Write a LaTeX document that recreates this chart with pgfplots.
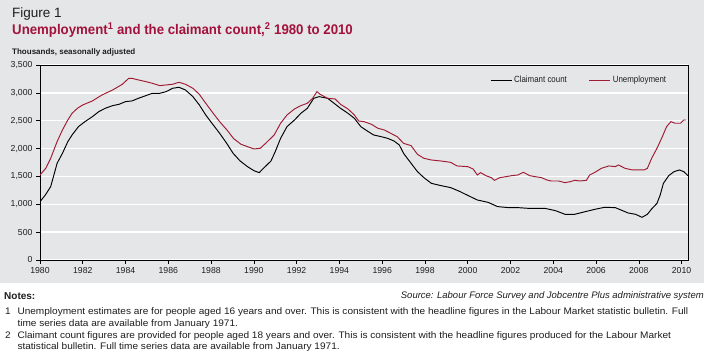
\documentclass[border=0pt]{standalone}
\usepackage{fontspec}
\setmainfont{Liberation Sans}
\newfontfamily\narrow[FakeStretch=0.88]{Liberation Sans}
\newfontfamily\notesfont[FakeStretch=1.06]{Liberation Sans}
\usepackage{pgfplots}
\pgfplotsset{compat=1.18}
\definecolor{bggray}{RGB}{229,230,231}
\definecolor{unemp}{RGB}{160,27,52}
\definecolor{titlered}{RGB}{163,18,60}
\definecolor{txt}{RGB}{30,30,30}
\begin{document}
\begin{tikzpicture}
\path[use as bounding box] (0pt,0pt) rectangle (710pt,358pt);
\fill[white] (0pt,0pt) rectangle (710pt,358pt);
\fill[bggray] (0pt,75pt) rectangle (704pt,358pt);
\node[anchor=base west, inner sep=0pt, text=txt] at (12pt,340.5pt) {\fontsize{13.5}{15}\selectfont Figure 1};
\node[anchor=base west, inner sep=0pt, text=titlered] at (12pt,323.7pt) {\fontsize{14}{16}\selectfont\bfseries\addfontfeature{FakeStretch=0.945}Unemployment\textsuperscript{1} and the claimant count,\textsuperscript{2} 1980 to 2010};
\node[anchor=base west, inner sep=0pt, text=txt] at (12pt,303pt) {\fontsize{8}{9}\selectfont\bfseries Thousands, seasonally adjusted};
\begin{axis}[
  at={(40pt,98pt)}, anchor=south west, scale only axis,
  width=648pt, height=195pt,
  xmin=1980, xmax=2010.3, ymin=0, ymax=3500,
  xtick={1980,1982,...,2010}, minor x tick num=9,
  ytick={0,500,...,3500},
  xtick pos=bottom, ytick pos=left,
  tick align=outside, major tick length=4pt, minor tick length=4pt,
  ymajorgrids, grid style={white, line width=1.3pt},
  axis background/.style={fill=bggray},
  axis line style={black, line width=0.8pt},
  tick style={black, line width=0.6pt},
  /pgf/number format/assume math mode=true,
  ticklabel style={font=\fontsize{8.7}{10}\selectfont, text=txt},
  xticklabel style={/pgf/number format/1000 sep={}},
  yticklabel style={/pgf/number format/1000 sep={,}},
  legend style={draw=none, fill=none, at={(0.832,0.923)}, anchor=center,
    font=\narrow\fontsize{9}{10}\selectfont, text=txt,
    /tikz/every even column/.append style={column sep=20pt}},
  legend columns=2,
  legend image code/.code={\draw[#1] (0pt,0pt) -- (21pt,0pt);},
]
\addplot[black, line width=0.95pt] coordinates {
(1980.0,1047) (1980.25,1167) (1980.5,1317) (1980.65,1526) (1980.8,1736)
(1981.05,1915) (1981.3,2124) (1981.5,2244) (1981.8,2394) (1982.1,2483)
(1982.45,2573) (1982.75,2663) (1983.05,2723) (1983.4,2771) (1983.7,2795)
(1984.0,2843) (1984.3,2855) (1984.6,2902) (1984.95,2950) (1985.25,2992)
(1985.6,2992) (1985.9,3022) (1986.2,3082) (1986.5,3100) (1986.8,3052)
(1987.15,2932) (1987.45,2783) (1987.75,2603) (1988.1,2424) (1988.4,2274)
(1988.72,2100) (1989.03,1915) (1989.35,1780) (1989.7,1676) (1990.0,1604)
(1990.25,1568) (1990.45,1646) (1990.8,1777) (1991.0,1945) (1991.25,2184)
(1991.55,2394) (1991.9,2513) (1992.2,2633) (1992.5,2723) (1992.8,2902)
(1993.05,2932) (1993.45,2902) (1993.75,2813) (1994.05,2723) (1994.4,2633)
(1994.7,2543) (1995.0,2394) (1995.3,2316) (1995.6,2244) (1995.95,2214)
(1996.25,2184) (1996.55,2136) (1996.8,2065) (1997.0,1915) (1997.35,1736)
(1997.65,1586) (1997.95,1478) (1998.3,1376) (1998.75,1335) (1999.2,1299)
(1999.6,1235) (2000.0,1160) (2000.45,1077) (2000.95,1035) (2001.4,958)
(2001.9,940) (2002.35,940) (2002.8,928) (2003.3,928) (2003.6,928)
(2004.1,886) (2004.55,820) (2005.0,820) (2005.5,868) (2005.95,910)
(2006.4,946) (2006.9,940) (2007.2,892) (2007.5,844) (2007.85,820)
(2008.15,766) (2008.4,820) (2008.6,916) (2008.85,1017) (2009.0,1167)
(2009.15,1376) (2009.4,1514) (2009.65,1586) (2009.9,1616) (2010.1,1586)
(2010.3,1514)
};
\addlegendentry{Claimant count}
\addplot[unemp, line width=0.95pt] coordinates {
(1980.0,1526) (1980.27,1646) (1980.5,1825) (1980.65,1975) (1980.8,2125)
(1981.05,2334) (1981.3,2513) (1981.5,2633) (1981.75,2723) (1982.0,2783)
(1982.45,2855) (1982.9,2962) (1983.4,3052) (1983.85,3154) (1984.15,3261)
(1984.3,3261) (1984.6,3232) (1984.95,3202) (1985.25,3172) (1985.6,3130)
(1985.9,3142) (1986.2,3154) (1986.5,3190) (1986.8,3154) (1987.15,3082)
(1987.45,2974) (1987.75,2813) (1988.1,2633) (1988.4,2483) (1988.75,2330)
(1989.05,2180) (1989.4,2077) (1989.7,2035) (1990.0,1993) (1990.3,2005)
(1990.6,2112) (1990.95,2244) (1991.25,2454) (1991.55,2603) (1991.9,2711)
(1992.2,2771) (1992.5,2813) (1992.75,2902) (1992.95,3022) (1993.1,2974)
(1993.45,2902) (1993.8,2890) (1994.05,2795) (1994.4,2711) (1994.7,2603)
(1994.9,2495) (1995.15,2483) (1995.5,2436) (1995.8,2364) (1996.1,2334)
(1996.4,2274) (1996.7,2214) (1997.0,2094) (1997.35,2053) (1997.65,1897)
(1997.95,1825) (1998.3,1795) (1998.75,1777) (1999.2,1753) (1999.5,1688)
(2000.0,1676) (2000.25,1634) (2000.45,1526) (2000.6,1568) (2000.85,1514)
(2001.1,1478) (2001.25,1430) (2001.5,1478) (2001.8,1496) (2002.05,1514)
(2002.35,1526) (2002.6,1574) (2002.9,1514) (2003.15,1496) (2003.45,1478)
(2003.7,1436) (2003.9,1418) (2004.25,1418) (2004.55,1388) (2004.8,1406)
(2005.0,1430) (2005.25,1418) (2005.55,1430) (2005.7,1526) (2005.95,1574)
(2006.25,1646) (2006.6,1688) (2006.9,1676) (2007.05,1706) (2007.35,1646)
(2007.7,1616) (2008.0,1616) (2008.25,1616) (2008.4,1646) (2008.6,1825)
(2008.85,2005) (2009.1,2214) (2009.3,2394) (2009.5,2483) (2009.7,2454)
(2009.95,2454) (2010.1,2513) (2010.2,2513)
};
\addlegendentry{Unemployment}
\end{axis}
\node[anchor=base west, inner sep=0pt, text=txt] at (4pt,58pt) {\fontsize{10}{11}\selectfont\bfseries Notes:};
\node[anchor=base east, inner sep=0pt, text=txt] at (704pt,59pt) {\fontsize{9.5}{10}\selectfont\itshape Source: Labour Force Survey and Jobcentre Plus administrative system};
\begin{scope}[every node/.style={anchor=base west, inner sep=0pt, text=txt, font=\notesfont\fontsize{9.5}{10}\selectfont}]
\node at (5pt,43pt) {1};
\node at (17.3pt,43pt) {Unemployment estimates are for people aged 16 years and over. This is consistent with the headline figures in the Labour Market statistic bulletin. Full};
\node at (17.3pt,31pt) {time series data are available from January 1971.};
\node at (5pt,19.5pt) {2};
\node at (17.3pt,19.5pt) {Claimant count figures are provided for people aged 18 years and over. This is consistent with the headline figures produced for the Labour Market};
\node at (17.3pt,8pt) {statistical bulletin. Full time series data are available from January 1971.};
\end{scope}
\end{tikzpicture}
\end{document}
